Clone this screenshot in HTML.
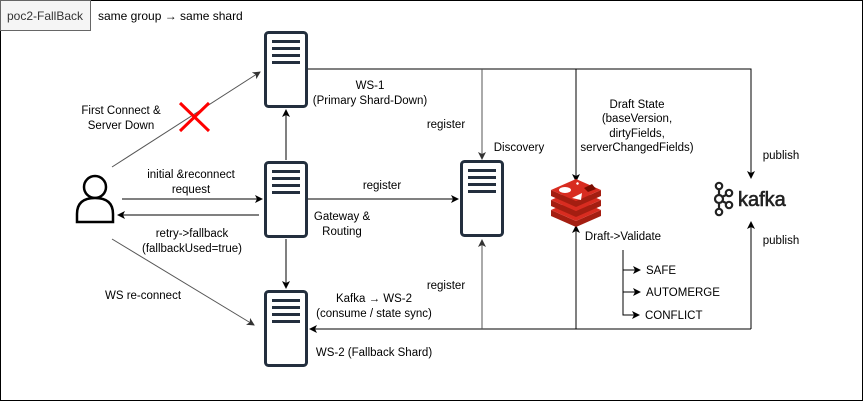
<!DOCTYPE html>
<html><head><meta charset="utf-8"><style>
body{margin:0;background:#fff;}
svg{display:block;font-family:"Liberation Sans",sans-serif;}
</style></head><body>
<svg width="863" height="401" viewBox="0 0 863 401" xmlns="http://www.w3.org/2000/svg">
<defs>
<marker id="a" markerWidth="8" markerHeight="8" refX="7" refY="4" orient="auto" markerUnits="userSpaceOnUse"><path d="M0,0 L8,4 L0,8 L2,4 Z" fill="#000"/></marker>
<marker id="g" markerWidth="8" markerHeight="8" refX="7" refY="4" orient="auto" markerUnits="userSpaceOnUse"><path d="M0,0 L8,4 L0,8 L2,4 Z" fill="#333"/></marker>
<g id="srv"><rect x="1.5" y="1.5" width="41" height="74" rx="3" fill="#fff" stroke="#232f3e" stroke-width="3"/><rect x="8" y="9" width="28" height="3" fill="#232f3e"/><rect x="8" y="16" width="28" height="3" fill="#232f3e"/><rect x="8" y="23" width="28" height="3" fill="#232f3e"/><rect x="8" y="30" width="28" height="3" fill="#232f3e"/></g>
</defs>
<rect x="0.5" y="0.5" width="862" height="400" fill="#fff" stroke="#000"/>
<rect x="0.5" y="0.5" width="90" height="30" fill="#f5f5f5" stroke="#666"/>
<g font-size="12" fill="#000">
<text x="45" y="20" text-anchor="middle" fill="#333">poc2-FallBack</text>
<text x="98" y="20">same group → same shard</text>
</g>
<g fill="none" stroke-width="1">
<line x1="112" y1="167" x2="260" y2="72" stroke="#555" marker-end="url(#g)"/>
<line x1="112" y1="239" x2="254" y2="325" stroke="#555" marker-end="url(#g)"/>
<line x1="122" y1="199" x2="262" y2="199" stroke="#000" marker-end="url(#a)"/>
<line x1="259" y1="215" x2="118" y2="215" stroke="#000" marker-end="url(#a)"/>
<line x1="286" y1="160" x2="286" y2="110" stroke="#000" marker-end="url(#a)"/>
<line x1="286" y1="239" x2="286" y2="288" stroke="#000" marker-end="url(#a)"/>
<line x1="308" y1="199" x2="458" y2="199" stroke="#000" marker-end="url(#a)"/>
<polyline points="308,69 751,69 751,178" stroke="#000" marker-end="url(#a)"/>
<line x1="482" y1="69" x2="482" y2="159" stroke="#555" marker-end="url(#g)"/>
<line x1="576" y1="69" x2="576" y2="181" stroke="#000" marker-end="url(#a)"/>
<line x1="751" y1="329" x2="751" y2="222" stroke="#000" marker-end="url(#a)"/>
<line x1="751" y1="329" x2="310" y2="329" stroke="#000" marker-end="url(#a)"/>
<line x1="482" y1="329" x2="482" y2="240" stroke="#555" marker-end="url(#g)"/>
<line x1="576" y1="329" x2="576" y2="226" stroke="#000" marker-end="url(#a)"/>
<polyline points="623,250 623,270 640,270" stroke="#000" marker-end="url(#a)"/>
<polyline points="623,270 623,292 640,292" stroke="#000" marker-end="url(#a)"/>
<polyline points="623,292 623,315 639,315" stroke="#000" marker-end="url(#a)"/>
</g>
<line x1="180" y1="103" x2="209" y2="131" stroke="#f00" stroke-width="3"/>
<line x1="209" y1="103" x2="180" y2="131" stroke="#f00" stroke-width="3"/>
<use href="#srv" x="264" y="31"/>
<use href="#srv" x="264" y="161"/>
<use href="#srv" x="264" y="290"/>
<use href="#srv" x="460" y="160"/>
<g fill="#fff" stroke="#000" stroke-width="2.5">
<circle cx="95" cy="187" r="11"/>
<path d="M77,222 L77,214 Q77,198 95,198 Q113,198 113,214 L113,222 Z"/>
</g>
<g>
<path d="M551,210 L576,221 L601,210 L601,216 L576,227 L551,216 Z" fill="#a41e11"/>
<path d="M551,210 L576,199 L601,210 L576,221 Z" fill="#d82c20"/>
<path d="M551,200 L576,211 L601,200 L601,206 L576,217 L551,206 Z" fill="#a41e11"/>
<path d="M551,200 L576,189 L601,200 L576,211 Z" fill="#d82c20"/>
<path d="M551,190 L576,201 L601,190 L601,196 L576,207 L551,196 Z" fill="#a41e11"/>
<path d="M551,190 L576,179 L601,190 L576,201 Z" fill="#d82c20"/>
<ellipse cx="565" cy="190" rx="6" ry="3" fill="#fff"/>
<path d="M572,198 L582,193 L581,200 Z" fill="#fff"/>
<path d="M584,188 L592,184 L596,189 L588,192 Z" fill="#7a0c00"/>
<path d="M576,183 l2,-1 l1,2 l-2,1 Z" fill="#fff"/>
</g>
<g fill="none" stroke="#222" stroke-width="2.2">
<circle cx="719" cy="186" r="3.2"/><circle cx="719" cy="199" r="4"/><circle cx="719" cy="212" r="3.2"/>
<circle cx="729" cy="193" r="3.2"/><circle cx="729" cy="205" r="3.2"/>
<line x1="719" y1="189" x2="719" y2="195"/><line x1="719" y1="203" x2="719" y2="209"/>
<line x1="722" y1="197" x2="726" y2="195"/><line x1="722" y1="201" x2="726" y2="203"/>
</g>
<text x="738" y="206" font-size="20" fill="#222" stroke="#222" stroke-width="0.6">kafka</text>
<g font-size="11.5" fill="#000" text-anchor="middle">
<text x="121" y="114">First Connect &amp;</text>
<text x="121" y="129">Server Down</text>
<text x="191" y="178">initial &amp;reconnect</text>
<text x="191" y="193">request</text>
<text x="192" y="237">retry-&gt;fallback</text>
<text x="192" y="252">(fallbackUsed=true)</text>
<text x="143" y="299">WS re-connect</text>
<text x="370" y="89">WS-1</text>
<text x="370" y="104">(Primary Shard-Down)</text>
<text x="382" y="189">register</text>
<text x="342" y="220">Gateway &amp;</text>
<text x="342" y="235">Routing</text>
<text x="446" y="128">register</text>
<text x="519" y="151">Discovery</text>
<text x="446" y="289">register</text>
<text x="374" y="302">Kafka → WS-2</text>
<text x="374" y="317">(consume / state sync)</text>
<text x="374" y="356">WS-2 (Fallback Shard)</text>
<text x="637" y="108">Draft State</text>
<text x="637" y="122">(baseVersion,</text>
<text x="637" y="137">dirtyFields,</text>
<text x="637" y="151">serverChangedFields)</text>
<text x="781" y="159">publish</text>
<text x="781" y="244">publish</text>
<text x="623" y="240">Draft-&gt;Validate</text>
</g>
<g font-size="11.5" fill="#000">
<text x="646" y="274">SAFE</text>
<text x="646" y="296">AUTOMERGE</text>
<text x="645" y="319">CONFLICT</text>
</g>
</svg>
</body></html>
